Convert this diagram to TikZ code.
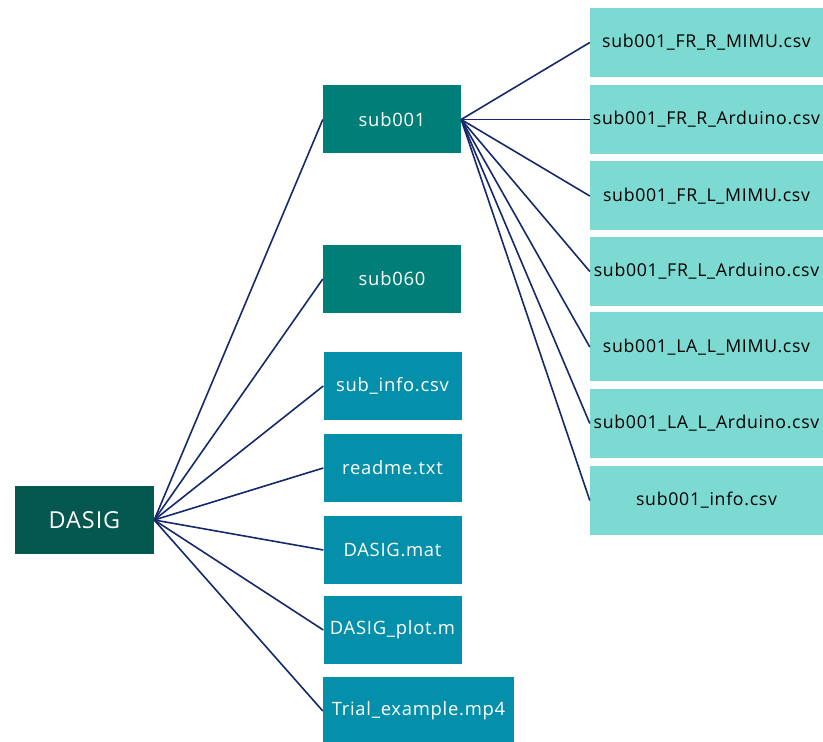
\documentclass[tikz,border=0pt]{standalone}
\usepackage{fontspec}
\setmainfont[LetterSpace=4]{Open Sans}
\definecolor{rootcol}{HTML}{05584F}
\definecolor{subcol}{HTML}{007F78}
\definecolor{filecol}{HTML}{0490AA}
\definecolor{leafcol}{HTML}{7DDAD3}
\definecolor{linecol}{HTML}{15296B}
\tikzset{
  box/.style={rectangle, inner sep=0pt, minimum width=138pt, minimum height=68pt, font=\fontsize{18.4}{22}\selectfont},
  rootbox/.style={box, minimum width=139pt, fill=rootcol, text=white, font=\fontsize{23.4}{27}\selectfont},
  dirbox/.style={box, fill=subcol, text=white},
  filebox/.style={box, fill=filecol, text=white},
  leafbox/.style={rectangle, inner sep=0pt, minimum width=233pt, minimum height=69pt, fill=leafcol, text=black, font=\fontsize{17.7}{21}\selectfont},
  link/.style={draw=linecol, line width=1.6pt}
}
\begin{document}
\begin{tikzpicture}[x=1pt,y=1pt]
\useasboundingbox (0,0) rectangle (823,742);
\node[rootbox] (root) at (84.5,222) {DASIG};
\node[dirbox] (s1) at (392,622.5) {sub001};
\node[dirbox] (s60) at (392,463) {sub060};
\node[filebox] (info) at (392.5,356) {sub\_info.csv};
\node[filebox] (readme) at (392.5,274) {readme.txt};
\node[filebox] (mat) at (392.5,192) {DASIG.mat};
\node[filebox] (plot) at (392.5,112) {DASIG\_plot.m};
\node[filebox, minimum width=191pt] (trial) at (418.5,31) {Trial\_example.mp4};
\node[leafbox] (l1) at (706.5,699.5) {sub001\_FR\_R\_MIMU.csv};
\node[leafbox] (l2) at (706.5,622.5) {sub001\_FR\_R\_Arduino.csv};
\node[leafbox] (l3) at (706.5,546) {sub001\_FR\_L\_MIMU.csv};
\node[leafbox] (l4) at (706.5,470.5) {sub001\_FR\_L\_Arduino.csv};
\node[leafbox] (l5) at (706.5,395) {sub001\_LA\_L\_MIMU.csv};
\node[leafbox] (l6) at (706.5,318.5) {sub001\_LA\_L\_Arduino.csv};
\node[leafbox] (l7) at (706.5,241.5) {sub001\_info.csv};
\foreach \t in {s1,s60,info,readme,mat,plot,trial}
  \draw[link] (root.east) -- (\t.west);
\foreach \t in {l1,l2,l3,l4,l5,l6,l7}
  \draw[link] (s1.east) -- (\t.west);
\end{tikzpicture}
\end{document}
